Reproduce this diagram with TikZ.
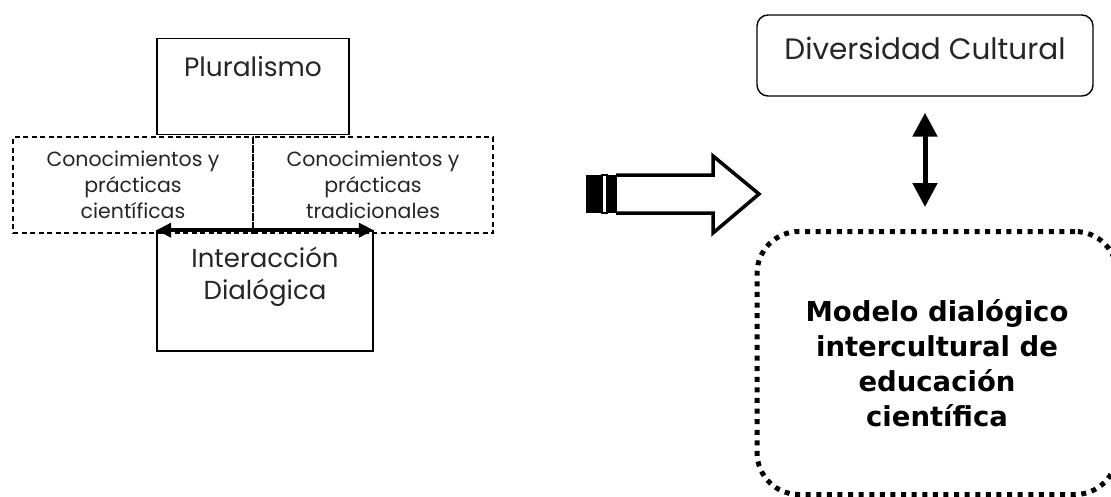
\documentclass[tikz,border=0pt]{standalone}
\usepackage{fontspec}
\setmainfont{Poppins}
\newfontfamily\heavyfont{DejaVu Sans}
\usetikzlibrary{arrows.meta}

\tikzset{
  plainbox/.style={draw=black, line width=1.6pt, minimum width=#1},
  dashbox/.style={draw=black, line width=1.3pt, dash pattern=on 5pt off 3.5pt,
                  minimum width=240pt, minimum height=96pt, align=center,
                  font=\fontsize{20.5}{26}\selectfont, text=black!85, inner sep=0pt},
  roundbox/.style={draw=black, line width=1.4pt, rounded corners=11pt,
                   minimum width=336pt, minimum height=81pt},
  dotbox/.style={draw=black, line width=5pt, dash pattern=on 5pt off 5.6pt,
                 rounded corners=42pt, minimum width=360pt, minimum height=263pt,
                 align=center, font=\heavyfont\bfseries\fontsize{27.5}{35}\selectfont},
  labeltext/.style={text=black!85, inner sep=0pt, align=center},
  hdouble/.style={line width=4pt, {Triangle[length=15pt,width=14pt]}-{Triangle[length=15pt,width=14pt]}},
  vdouble/.style={line width=5pt, {Triangle[length=24pt,width=24pt]}-{Triangle[length=24pt,width=24pt]}},
}

\begin{document}
\begin{tikzpicture}[x=1pt, y=-1pt]
\useasboundingbox (0,0) rectangle (1111,496);
\fill[white] (0,0) rectangle (1111,496);

% left group: knowledge systems in dialogue
\node[dashbox] (cien) at (133,185) {Conocimientos y\\prácticas\\científicas};
\node[dashbox] (trad) at (373,185) {Conocimientos y\\prácticas\\tradicionales};
\node[plainbox=192pt, minimum height=96pt, fill=white] (plu) at (253,86.5) {};
\node[labeltext, font=\fontsize{26.5}{30}\selectfont] (plutxt) at (253,67) {Pluralismo};
\node[plainbox=216pt, minimum height=120pt] (inter) at (265,291) {};
\node[labeltext, font=\fontsize{26}{32}\selectfont] (intertxt) at (265,277) {Interacción\\Dialógica};
\draw[hdouble] (inter.north west) -- (inter.north east);

% block arrow with striped tail
\fill[black] (586,175) rectangle (602,213);
\fill[black] (607,175) rectangle (617,213);
\draw[black, line width=1.5pt] (602,175) rectangle (607,213);
\draw[black, line width=3.5pt, line join=miter]
  (616,175) -- (713,175) -- (713,156) -- (759,194) -- (713,233) -- (713,213) -- (616,213);

% right group
\node[roundbox] (div) at (925,55.5) {};
\node[labeltext, font=\fontsize{29.5}{32}\selectfont] (divtxt) at (925,48) {Diversidad Cultural};
\node[dotbox] (mod) at (937,363) {Modelo dialógico\\intercultural de\\educación\\científica};
\draw[vdouble, shorten <=16pt, shorten >=22pt] (div.south) -- (div.south |- mod.north);
\end{tikzpicture}
\end{document}
